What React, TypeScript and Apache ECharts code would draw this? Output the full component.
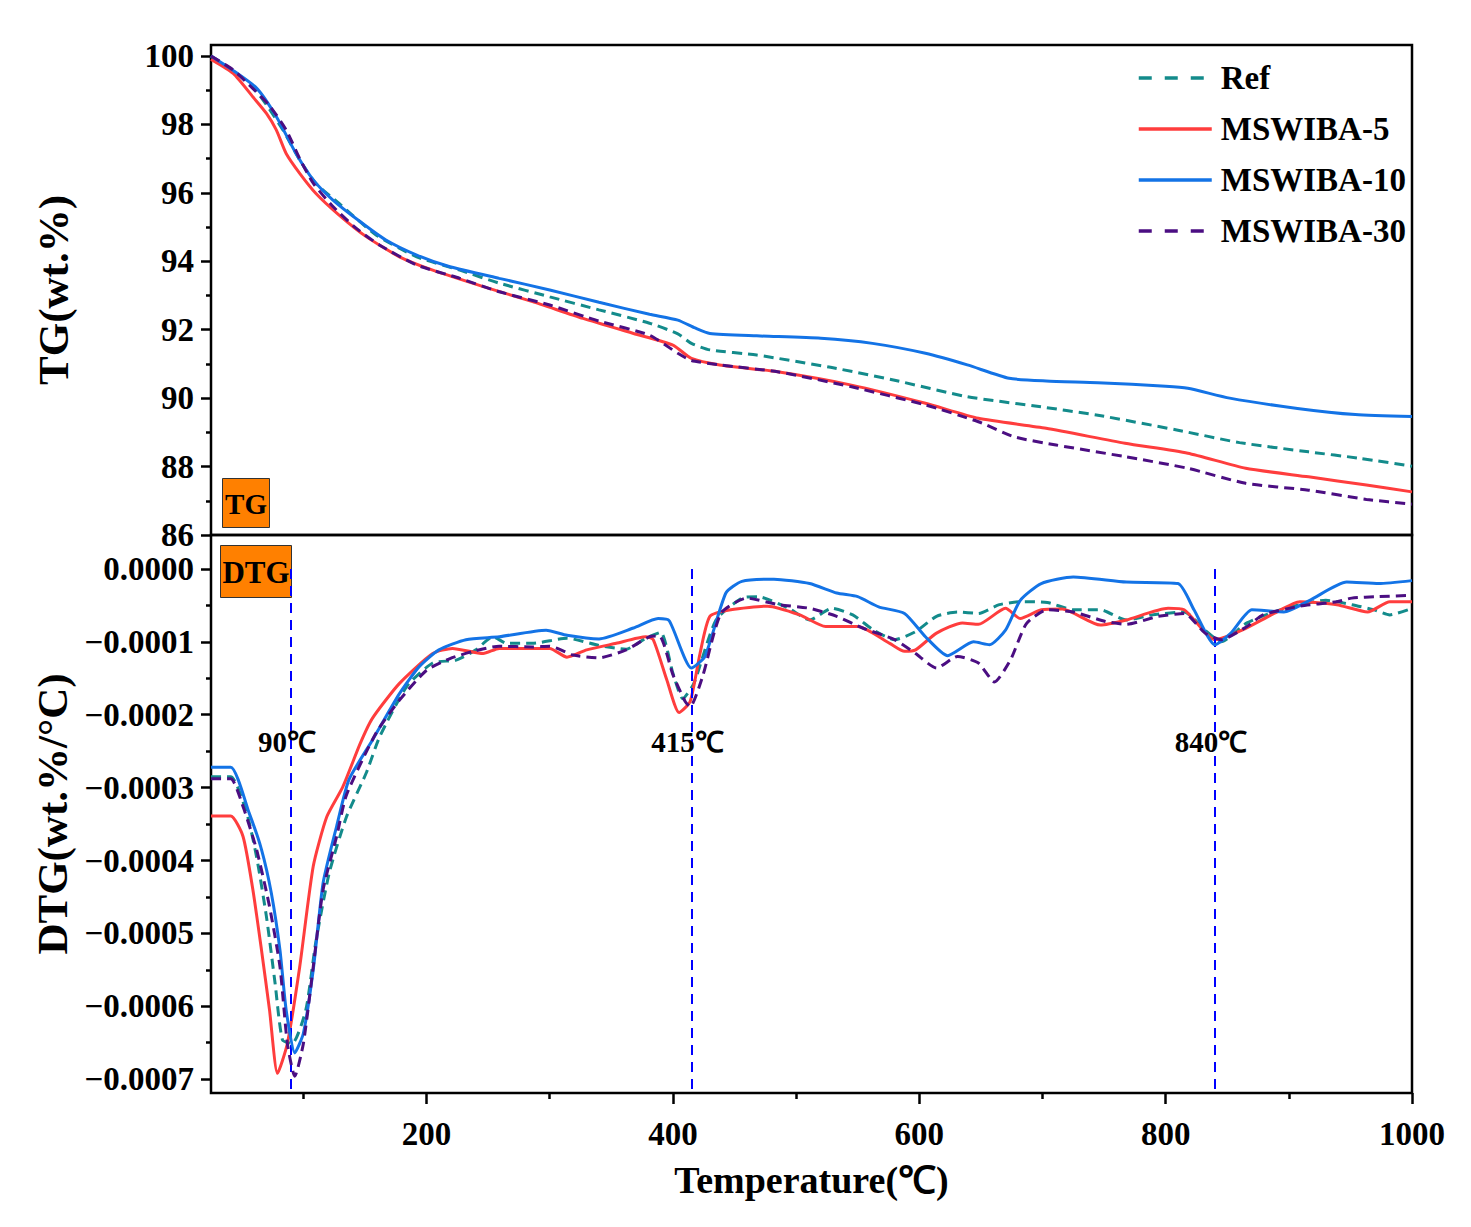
import * as echarts from "echarts";
import { useEffect, useRef } from "react";

const FONT = "'Liberation Serif', 'Times New Roman', serif";

// shared temperature axis
const tempMin = 25;
const tempMax = 1000;
const tempTicks = [200, 400, 600, 800, 1000];
const tempMinorTicks = [100, 300, 500, 700, 900];

// TG panel axis
const tgMin = 86;
const tgMax = 100.32;
const tgTicks = [86, 88, 90, 92, 94, 96, 98, 100];
const tgMinorTicks = [87, 89, 91, 93, 95, 97, 99];

// DTG panel axis
const dtgMin = -0.000719;
const dtgMax = 0.0000466;
const dtgTicks = [-0.0007, -0.0006, -0.0005, -0.0004, -0.0003, -0.0002, -0.0001, 0];
const dtgMinorTicks = [-0.00065, -0.00055, -0.00045, -0.00035, -0.00025, -0.00015, -0.00005];

const seriesNames = ["Ref", "MSWIBA-5", "MSWIBA-10", "MSWIBA-30"];
const seriesColors = ["#138B8B", "#FF3D3D", "#1373E6", "#4B0E82"];
const seriesDashed = [true, false, false, true];

// TG curves: [temperature (°C), mass (wt.%)]
const refTG = [
  [25, 100.0], [42, 99.6], [59, 99.1], [72, 98.47], [85, 97.74], [97, 96.96],
  [110, 96.28], [129, 95.69], [159, 94.77], [192, 94.13], [227, 93.74], [259, 93.36],
  [300, 92.96], [340, 92.58], [381, 92.19], [404, 91.88], [415, 91.6], [430, 91.41],
  [468, 91.26], [528, 90.9], [579, 90.53], [639, 90.04], [694, 89.77], [745, 89.5],
  [809, 89.07], [860, 88.7], [916, 88.43], [958, 88.24], [1000, 88.01],
];
const m5TG = [
  [25, 99.9], [43, 99.49], [60, 98.76], [70, 98.32], [78, 97.84], [86, 97.15],
  [97, 96.57], [110, 95.99], [129, 95.35], [151, 94.72], [178, 94.13], [205, 93.74],
  [246, 93.26], [286, 92.82], [327, 92.33], [368, 91.89], [400, 91.55], [415, 91.16],
  [438, 90.97], [485, 90.77], [545, 90.38], [605, 89.85], [648, 89.41], [703, 89.12],
  [767, 88.68], [818, 88.39], [865, 87.95], [916, 87.7], [963, 87.46], [1000, 87.26],
];
const m10TG = [
  [25, 100.0], [42, 99.6], [62, 99.06], [78, 98.23], [94, 97.15], [108, 96.38],
  [124, 95.79], [146, 95.16], [167, 94.62], [192, 94.18], [219, 93.84], [259, 93.5],
  [300, 93.16], [340, 92.8], [381, 92.45], [404, 92.28], [418, 92.05], [430, 91.89],
  [468, 91.82], [520, 91.75], [562, 91.6], [605, 91.31], [639, 90.97], [673, 90.58],
  [703, 90.5], [745, 90.45], [800, 90.35], [818, 90.29], [852, 90.0], [907, 89.7],
  [954, 89.52], [1000, 89.46],
];
const m30TG = [
  [25, 100.0], [43, 99.59], [56, 99.15], [72, 98.57], [86, 97.84], [97, 97.0],
  [108, 96.28], [124, 95.6], [143, 94.96], [162, 94.47], [192, 93.89], [227, 93.5],
  [259, 93.11], [300, 92.72], [340, 92.25], [381, 91.84], [404, 91.31], [415, 91.1],
  [438, 90.97], [485, 90.77], [545, 90.33], [605, 89.8], [648, 89.31], [677, 88.87],
  [711, 88.63], [767, 88.29], [818, 87.95], [865, 87.51], [916, 87.31], [963, 87.04],
  [1000, 86.9],
];

// DTG curves: [temperature (°C), DTG in units of 1e-4 wt.%/°C]
const refDTG = [
  [25, -2.85], [41, -2.85], [54, -3.35], [62, -3.95], [70, -4.77], [77, -5.68],
  [83, -6.46], [91, -6.51], [102, -6.05], [110, -5.13], [121, -4.17], [135, -3.4],
  [151, -2.8], [162, -2.3], [184, -1.61], [205, -1.29], [224, -1.25], [240, -1.11],
  [254, -0.93], [265, -1.02], [286, -1.02], [314, -0.95], [340, -1.05], [362, -1.1],
  [378, -0.95], [390, -0.87], [400, -1.43], [408, -1.78], [417, -1.57], [435, -0.7],
  [456, -0.4], [469, -0.38], [494, -0.54], [511, -0.7], [529, -0.54], [546, -0.63],
  [563, -0.84], [580, -0.97], [597, -0.86], [614, -0.65], [631, -0.59], [648, -0.61],
  [665, -0.49], [682, -0.45], [704, -0.46], [725, -0.56], [747, -0.56], [768, -0.7],
  [789, -0.63], [815, -0.59], [832, -0.84], [845, -1.0], [866, -0.74], [888, -0.59],
  [909, -0.49], [930, -0.43], [951, -0.49], [969, -0.56], [982, -0.63], [1000, -0.54],
];
const m5DTG = [
  [25, -3.39], [41, -3.39], [51, -3.67], [59, -4.4], [66, -5.23], [72.5, -6.05],
  [79, -6.92], [87, -6.51], [97, -5.46], [108, -4.08], [119, -3.4], [132, -2.99],
  [146, -2.4], [156, -2.05], [178, -1.57], [205, -1.16], [221, -1.09], [246, -1.16],
  [259, -1.09], [300, -1.09], [314, -1.21], [330, -1.11], [354, -1.02], [378, -0.93],
  [384, -0.97], [395, -1.52], [405, -1.97], [414, -1.82], [422, -1.16], [430, -0.65],
  [447, -0.56], [477, -0.51], [503, -0.63], [524, -0.79], [550, -0.79], [576, -1.02],
  [588, -1.13], [597, -1.11], [614, -0.88], [635, -0.74], [648, -0.76], [670, -0.54],
  [682, -0.68], [699, -0.56], [716, -0.55], [747, -0.77], [768, -0.7], [802, -0.54],
  [815, -0.56], [840, -0.97], [862, -0.84], [888, -0.61], [909, -0.45], [939, -0.49],
  [964, -0.59], [982, -0.45], [1000, -0.45],
];
const m10DTG = [
  [25, -2.72], [41, -2.72], [56, -3.35], [66, -3.85], [74, -4.45], [81, -5.23],
  [86, -6.05], [93, -6.64], [100, -6.37], [108, -5.5], [116, -4.31], [127, -3.53],
  [137, -2.89], [156, -2.35], [178, -1.71], [194, -1.34], [210, -1.11], [232, -0.97],
  [259, -0.93], [297, -0.84], [314, -0.91], [340, -0.96], [368, -0.81], [388, -0.68],
  [397, -0.71], [415, -1.36], [426, -1.2], [443, -0.33], [456, -0.17], [482, -0.14],
  [511, -0.2], [533, -0.33], [550, -0.38], [567, -0.52], [588, -0.61], [605, -0.93],
  [623, -1.19], [644, -1.0], [657, -1.04], [670, -0.84], [682, -0.43], [699, -0.2],
  [725, -0.11], [768, -0.18], [810, -0.2], [823, -0.56], [840, -1.04], [853, -0.88],
  [870, -0.56], [896, -0.59], [917, -0.43], [947, -0.18], [973, -0.2], [1000, -0.16],
];
const m30DTG = [
  [25, -2.88], [41, -2.88], [51, -3.26], [62, -3.85], [72.5, -4.63], [81, -5.46],
  [87, -6.51], [93, -6.96], [100, -6.51], [108, -5.46], [116, -4.4], [127, -3.67],
  [135, -3.1], [159, -2.25], [178, -1.8], [200, -1.39], [219, -1.23], [238, -1.13],
  [259, -1.06], [286, -1.07], [300, -1.06], [319, -1.18], [340, -1.22], [362, -1.11],
  [381, -0.93], [389, -0.92], [400, -1.45], [410, -1.82], [414, -1.89], [424, -1.48],
  [439, -0.61], [460, -0.4], [486, -0.49], [511, -0.54], [533, -0.65], [554, -0.81],
  [580, -0.97], [597, -1.16], [614, -1.36], [631, -1.2], [648, -1.29], [661, -1.55],
  [674, -1.25], [687, -0.75], [704, -0.56], [725, -0.59], [751, -0.72], [768, -0.76],
  [794, -0.65], [815, -0.61], [832, -0.88], [845, -0.97], [866, -0.79], [879, -0.63],
  [909, -0.51], [939, -0.45], [951, -0.4], [973, -0.38], [1000, -0.36],
];

// peak markers in the DTG panel
const peakTemps = [90, 415, 840];
const peakLabels = ["90℃", "415℃", "840℃"];
const peakLabelLevel = -2.37; // 1e-4 wt.%/°C

const tgData = [refTG, m5TG, m10TG, m30TG];
const dtgData = [refDTG, m5DTG, m10DTG, m30DTG];

const black = "#000";
const tickLabel = { fontFamily: FONT, fontWeight: "bold", fontSize: 33, color: black };
const noLine = { show: false, onZero: false };

export default function App() {
  const chartRef = useRef<HTMLDivElement>(null);

  useEffect(() => {
    if (!chartRef.current) return;
    const chart = echarts.init(chartRef.current, undefined, { renderer: "svg" });

    const lineStyle = (i: number) => ({
      color: seriesColors[i],
      width: 3,
      type: seriesDashed[i] ? [10, 6] : "solid",
    });

    const baseSeries = (i: number) => ({
      name: seriesNames[i],
      type: "line",
      symbol: "none",
      showSymbol: false,
      smooth: 0.2,
      lineStyle: lineStyle(i),
      itemStyle: { color: seriesColors[i] },
      z: 3 + i,
    });

    const gridLeft = 211;
    const plotWidth = 1201;

    chart.setOption({
      animation: false,
      backgroundColor: "#fff",
      grid: [
        { left: gridLeft, top: 45, width: plotWidth, height: 490, show: true, borderColor: black, borderWidth: 2.5 },
        { left: gridLeft, top: 535, width: plotWidth, height: 558, show: true, borderColor: black, borderWidth: 2.5 },
      ],
      legend: {
        data: seriesNames.map((name, i) => ({
          name,
          lineStyle: { width: 3.5, type: seriesDashed[i] ? [13, 13] : "solid" },
        })),
        orient: "vertical",
        left: 1137,
        top: 60,
        padding: 0,
        itemWidth: 73,
        itemHeight: 14,
        itemGap: 15,
        selectedMode: false,
        itemStyle: { opacity: 0 },
        textStyle: { ...tickLabel, lineHeight: 36, padding: [0, 0, 0, 4] },
      },
      xAxis: [
        {
          type: "value", gridIndex: 0, min: tempMin, max: tempMax,
          axisLine: noLine, axisTick: { show: false }, axisLabel: { show: false }, splitLine: { show: false },
        },
        {
          type: "value", gridIndex: 1, min: tempMin, max: tempMax, position: "bottom",
          name: "Temperature(℃)", nameLocation: "middle", nameGap: 68,
          nameTextStyle: { fontFamily: FONT, fontWeight: "bold", fontSize: 38, color: black },
          axisLine: noLine,
          axisTick: { show: true, length: 11, customValues: tempTicks, lineStyle: { color: black, width: 2.5 } },
          axisLabel: { ...tickLabel, margin: 24, customValues: tempTicks, formatter: (v: number) => String(v) },
          splitLine: { show: false },
        },
        {
          type: "value", gridIndex: 1, min: tempMin, max: tempMax, position: "bottom",
          axisLine: noLine,
          axisTick: { show: true, length: 6, customValues: tempMinorTicks, lineStyle: { color: black, width: 2.5 } },
          axisLabel: { show: false }, splitLine: { show: false },
        },
      ],
      yAxis: [
        {
          type: "value", gridIndex: 0, min: tgMin, max: tgMax, position: "left",
          name: "TG(wt.%)", nameLocation: "middle", nameGap: 136,
          nameTextStyle: { fontFamily: FONT, fontWeight: "bold", fontSize: 43, color: black },
          axisLine: noLine,
          axisTick: { show: true, length: 10, customValues: tgTicks, lineStyle: { color: black, width: 2.5 } },
          axisLabel: { ...tickLabel, margin: 17, customValues: tgTicks },
          splitLine: { show: false },
        },
        {
          type: "value", gridIndex: 1, min: dtgMin, max: dtgMax, position: "left",
          name: "DTG(wt.%/°C)", nameLocation: "middle", nameGap: 136,
          nameTextStyle: { fontFamily: FONT, fontWeight: "bold", fontSize: 43, color: black },
          axisLine: noLine,
          axisTick: { show: true, length: 10, customValues: dtgTicks, lineStyle: { color: black, width: 2.5 } },
          axisLabel: {
            ...tickLabel, margin: 17, customValues: dtgTicks,
            formatter: (v: number) => (Math.abs(v) < 1e-9 ? "0.0000" : "\u2212" + Math.abs(v).toFixed(4)),
          },
          splitLine: { show: false },
        },
        {
          type: "value", gridIndex: 0, min: tgMin, max: tgMax, position: "left",
          axisLine: noLine,
          axisTick: { show: true, length: 5, customValues: tgMinorTicks, lineStyle: { color: black, width: 2.5 } },
          axisLabel: { show: false }, splitLine: { show: false },
        },
        {
          type: "value", gridIndex: 1, min: dtgMin, max: dtgMax, position: "left",
          axisLine: noLine,
          axisTick: { show: true, length: 5, customValues: dtgMinorTicks, lineStyle: { color: black, width: 2.5 } },
          axisLabel: { show: false }, splitLine: { show: false },
        },
      ],
      series: [
        ...tgData.map((d, i) => ({ ...baseSeries(i), xAxisIndex: 0, yAxisIndex: 0, data: d })),
        ...dtgData.map((d, i) => ({
          ...baseSeries(i),
          xAxisIndex: 1,
          yAxisIndex: 1,
          data: d.map(([t, v]) => [t, v * 1e-4]),
          ...(i === 0
            ? {
                markLine: {
                  silent: true,
                  symbol: ["none", "none"],
                  label: { show: false },
                  lineStyle: { color: "#0000FF", width: 2, type: [10, 7] },
                  data: peakTemps.map((t) => [{ coord: [t, 0] }, { coord: [t, dtgMin] }]),
                },
                markPoint: {
                  silent: true,
                  symbol: "circle",
                  symbolSize: 0,
                  label: {
                    show: true, position: "inside", formatter: "{b}", offset: [-4, 0],
                    fontFamily: FONT, fontWeight: "bold", fontSize: 29, color: black,
                  },
                  data: peakTemps.map((t, k) => ({ name: peakLabels[k], coord: [t, peakLabelLevel * 1e-4] })),
                },
              }
            : {}),
        })),
      ],
      graphic: [
        {
          type: "group", left: 222, top: 478,
          children: [
            { type: "rect", shape: { x: 0, y: 0, width: 47, height: 49 }, style: { fill: "#FF8000", stroke: "#333", lineWidth: 1 } },
            { type: "text", x: 23.5, y: 25, style: { text: "TG", fill: black, font: `bold 29px ${FONT}`, align: "center", verticalAlign: "middle" } },
          ],
        },
        {
          type: "group", left: 220, top: 545,
          children: [
            { type: "rect", shape: { x: 0, y: 0, width: 71, height: 52 }, style: { fill: "#FF8000", stroke: "#333", lineWidth: 1 } },
            { type: "text", x: 35.5, y: 27, style: { text: "DTG", fill: black, font: `bold 31px ${FONT}`, align: "center", verticalAlign: "middle" } },
          ],
        },
      ],
    });

    return () => {
      chart.dispose();
    };
  }, []);

  return (
    <div
      ref={chartRef}
      style={{ position: "fixed", left: 0, top: 0, width: "1471px", height: "1227px", background: "#fff" }}
    />
  );
}
